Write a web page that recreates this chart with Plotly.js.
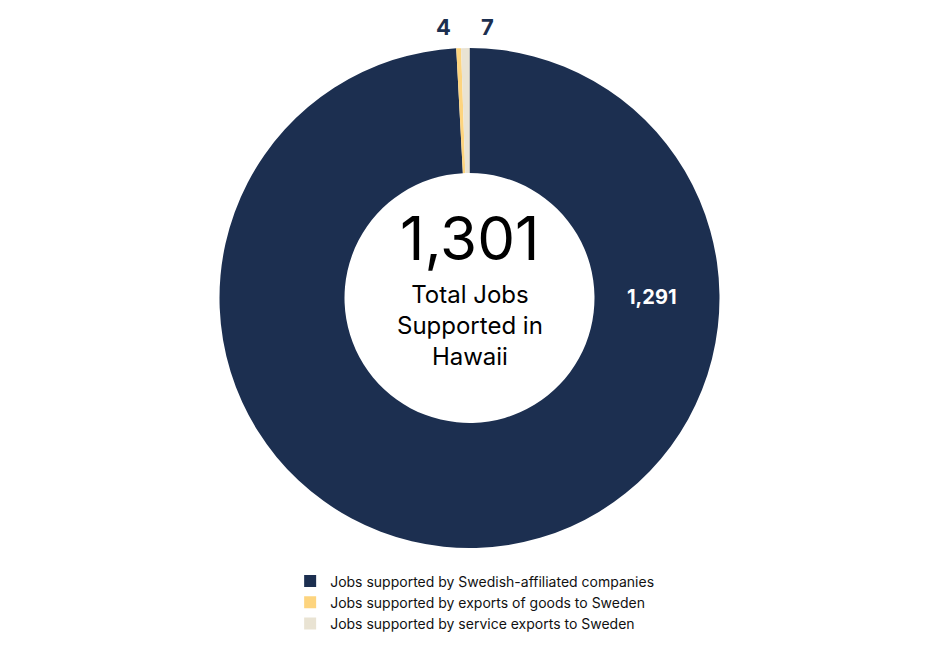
<!DOCTYPE html>
<html>
<head>
<meta charset="utf-8">
<script src="https://cdn.plot.ly/plotly-3.0.1.min.js"></script>
<style>html,body{margin:0;padding:0;background:#fff;}#chart{width:939px;height:648px;}</style>
</head>
<body>
<div id="chart"></div>
<script>
const categories = [
  "Jobs supported by Swedish-affiliated companies",
  "Jobs supported by exports of goods to Sweden",
  "Jobs supported by service exports to Sweden"
];
const values = [1291, 4, 7];
const colors = ["#1c2f50", "#fdd47e", "#e9e3d3"];
const labelColors = ["#ffffff", "#1c2f50", "#1c2f50"];
const totalLabel = "1,301";
const centerText = "Total Jobs<br>Supported in<br>Hawaii";

const FONT = "Inter, 'Noto Sans', sans-serif";
const fmt = v => v.toLocaleString("en-US");

const trace = {
  type: "pie",
  labels: categories,
  values: values,
  marker: {colors: colors, line: {width: 0}},
  hole: 0.5,
  sort: false,
  direction: "clockwise",
  rotation: 0,
  textinfo: "none",
  hoverinfo: "label+value"
};

// value labels placed around the ring
const labelPos = [
  {x: 0.694, y: 0.502},
  {x: 0.472, y: 1.042},
  {x: 0.519, y: 1.042}
];
const valueAnnotations = values.map((v, i) => ({
  text: fmt(v), x: labelPos[i].x, y: labelPos[i].y, xref: "paper", yref: "paper",
  xanchor: "center", yanchor: "middle",
  showarrow: false,
  font: {family: FONT, size: i === 0 ? 20 : 22, color: labelColors[i], weight: 700}
}));

const layout = {
  width: 939, height: 648,
  margin: {l: 0, r: 0, t: 48, b: 100},
  paper_bgcolor: "#ffffff",
  showlegend: true,
  legend: {
    orientation: "v", x: 0.309, xanchor: "left", y: -0.035, yanchor: "top",
    font: {family: FONT, size: 14, color: "#111"},
    itemwidth: 30, tracegroupgap: 0
  },
  annotations: [
    {text: totalLabel, x: 0.5, y: 0.62, xref: "paper", yref: "paper", showarrow: false,
     xanchor: "center", yanchor: "middle",
     font: {family: FONT, size: 60, color: "#000"}},
    {text: centerText, x: 0.5, y: 0.446, xref: "paper", yref: "paper", showarrow: false,
     xanchor: "center", yanchor: "middle",
     font: {family: FONT, size: 24, color: "#000"}}
  ].concat(valueAnnotations)
};

Plotly.newPlot("chart", [trace], layout, {displayModeBar: false});
</script>
</body>
</html>
